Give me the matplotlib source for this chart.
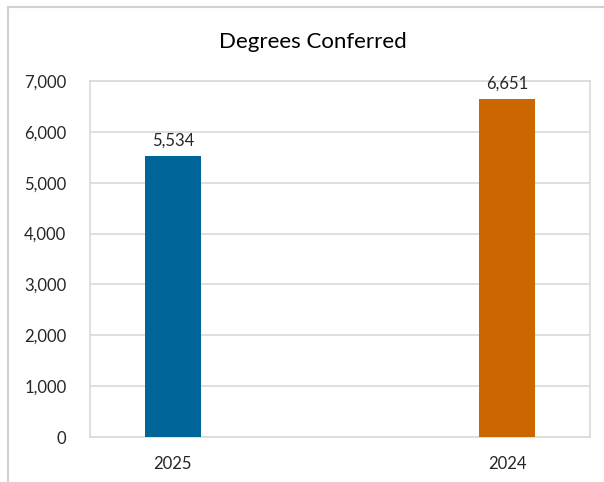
import matplotlib.pyplot as plt
from matplotlib.patches import Rectangle

years = ['2025', '2024']
degrees = [5534, 6651]
colors = ['#006699', '#CC6600']
yticks = [0, 1000, 2000, 3000, 4000, 5000, 6000, 7000]

plt.rcParams['font.family'] = ['Lato', 'DejaVu Sans']

fig = plt.figure(figsize=(6.04, 4.82), dpi=100)
ax = fig.add_axes([90/604, 1 - 437/482, 500/604, 356/482])

x = range(len(years))
bars = ax.bar(x, degrees, width=0.167, color=colors, zorder=3)

for b, v in zip(bars, degrees):
    ax.annotate(f'{v:,}', (b.get_x() + b.get_width()/2, v), xytext=(0, 5),
                textcoords='offset points', ha='center', va='bottom',
                fontsize=12, color='#262626')

ax.set_xlim(-0.248, 1.248)
ax.set_ylim(0, 7000)
ax.set_yticks(yticks)
ax.set_yticklabels([f'{t:,}' for t in yticks], fontsize=12, color='#262626')
ax.set_xticks(list(x))
ax.set_xticklabels(years, fontsize=12, color='#262626')
ax.tick_params(length=0, pad=14)
ax.tick_params(axis='y', pad=17)
ax.grid(axis='y', color='#d9d9d9', linewidth=1.2, zorder=0)
for s in ax.spines.values():
    s.set_color('#d9d9d9')
    s.set_linewidth(1.2)

fig.text(313/604, 1 - 42/482, 'Degrees Conferred', ha='center', va='center',
         fontsize=16, color='#000000')

fig.patches.append(Rectangle((8/604, -0.1), 1.2, 1.1 - 7/482, transform=fig.transFigure,
                             fill=False, edgecolor='#d0d0d0', linewidth=1.5))

fig.savefig('out.png', dpi=100)
